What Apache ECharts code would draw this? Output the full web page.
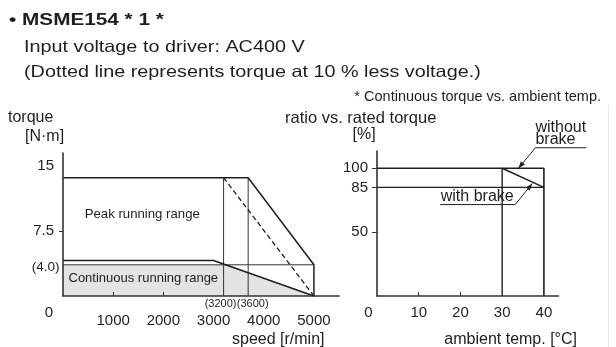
<!DOCTYPE html>
<html><head><meta charset="utf-8">
<script src="https://cdn.jsdelivr.net/npm/echarts@6/dist/echarts.min.js"></script>
<style>html,body{margin:0;padding:0;background:#fff}#c{width:616px;height:347px}</style>
</head><body><div id="c"></div>
<script>
// ---------- data: left chart (torque vs speed) ----------
const speedTickValues = [1000, 2000, 3000, 4000, 5000];
const speedTickMarks = [1000, 2000];
const torqueTickValues = [7.5, 15];
const torqueTickMarks = [7.5];
const peakTorque = [[0, 13.65], [3690, 13.65], [5000, 3.6], [5000, 0]];
const peakTorqueLowVoltage = [[3200, 13.65], [5000, 0]];
const continuousTorque = [[0, 4.1], [3000, 4.1], [5000, 0]];
const continuousRange = [[0, 3.6], [3250, 3.6], [5000, 0]];
const refTorqueLine = [[0, 3.6], [5000, 3.6]];
const cornerSpeedA = [[3200, 0], [3200, 13.65]];
const cornerSpeedB = [[3690, 0], [3690, 13.65]];
const cornerLabels = ['(3200)', '(3600)'];
const refTorqueLabel = '(4.0)';
const peakRangeLabel = 'Peak running range';
const contRangeLabel = 'Continuous running range';

// ---------- data: right chart (ratio vs ambient temp) ----------
const tempTickValues = [10, 20, 30, 40];
const tempTickMarks = [10, 20];
const ratioTickValues = [50, 85, 100];
const withoutBrake = [[0, 100], [40, 100], [40, 0]];
const withBrakeRef = [[0, 85], [40, 85]];
const withBrakeDerate = [[30, 100], [40, 85]];
const temp30Line = [[30, 0], [30, 100]];
const withoutBrakePoint = [33.9, 100];
const withBrakePoint = [37.2, 88];

const FONT = '"Liberation Sans", Arial, Helvetica, sans-serif';
const INK = '#1e1e1e';

const chart = echarts.init(document.getElementById('c'), null, {renderer: 'canvas'});

function seg(data, xi, opts) {
  return Object.assign({
    type: 'line', data: data, xAxisIndex: xi, yAxisIndex: xi,
    symbol: 'none', silent: true, animation: false, z: 3,
    lineStyle: {color: INK, width: 1.4}
  }, opts || {});
}

const axisLineStyle = {show: true, lineStyle: {color: '#333', width: 1.6}};
const labelStyle = {fontFamily: FONT, fontSize: 15, color: INK, formatter: function (v) { return String(v); }};

const option = {
  animation: false,
  backgroundColor: '#fff',
  grid: [
    {left: 63, top: 153, width: 276, height: 143},
    {left: 377, top: 151, width: 181.5, height: 145}
  ],
  xAxis: [
    {type: 'value', gridIndex: 0, min: 0, max: 5500, z: 4,
      axisLine: axisLineStyle,
      axisTick: {show: true, inside: true, length: 4, customValues: speedTickMarks, lineStyle: {color: '#333', width: 1}},
      axisLabel: Object.assign({customValues: speedTickValues, margin: 17}, labelStyle),
      splitLine: {show: false}},
    {type: 'value', gridIndex: 1, min: 0, max: 43.5, z: 4,
      axisLine: axisLineStyle,
      axisTick: {show: true, inside: true, length: 4, customValues: tempTickMarks, lineStyle: {color: '#333', width: 1}},
      axisLabel: Object.assign({customValues: tempTickValues, margin: 9}, labelStyle),
      splitLine: {show: false}}
  ],
  yAxis: [
    {type: 'value', gridIndex: 0, min: 0, max: 16.5, z: 4,
      axisLine: axisLineStyle,
      axisTick: {show: true, length: 4, customValues: torqueTickMarks, lineStyle: {color: '#333', width: 1}},
      axisLabel: Object.assign({customValues: torqueTickValues, margin: 9}, labelStyle),
      splitLine: {show: false}},
    {type: 'value', gridIndex: 1, min: 0, max: 113.5, z: 4,
      axisLine: axisLineStyle,
      axisTick: {show: true, length: 5, customValues: ratioTickValues, lineStyle: {color: '#333', width: 1}},
      axisLabel: Object.assign({customValues: ratioTickValues, margin: 9}, labelStyle),
      splitLine: {show: false}}
  ],
  series: [
    seg(continuousRange, 0, {z: 1, lineStyle: {width: 0, opacity: 0}, areaStyle: {color: '#e3e3e3', opacity: 1}}),
    seg(refTorqueLine, 0, {lineStyle: {color: '#333', width: 1}}),
    seg(cornerSpeedA, 0, {lineStyle: {color: '#333', width: 1}}),
    seg(cornerSpeedB, 0, {lineStyle: {color: '#333', width: 1}}),
    seg(continuousTorque, 0, {lineStyle: {color: INK, width: 1.5}}),
    seg(peakTorque, 0, {lineStyle: {color: INK, width: 1.5}}),
    seg(peakTorqueLowVoltage, 0, {lineStyle: {color: INK, width: 1.3, type: [5, 3]}}),
    seg(withBrakeRef, 1, {lineStyle: {color: INK, width: 1.4}}),
    seg(temp30Line, 1, {lineStyle: {color: INK, width: 1.4}}),
    seg(withBrakeDerate, 1, {lineStyle: {color: INK, width: 1.4}}),
    seg(withoutBrake, 1, {lineStyle: {color: INK, width: 1.6}})
  ]
};
chart.setOption(option);

function px(gi, pt) { return chart.convertToPixel({gridIndex: gi}, pt); }
function txt(x, y, s, o) {
  o = o || {};
  return {type: 'text', x: x, y: y, scaleX: o.sx || 1, silent: true, z: 10,
    style: {text: s, font: (o.bold ? 'bold ' : '') + (o.size || 16) + 'px ' + FONT, fill: INK,
      align: o.align || 'left', verticalAlign: 'middle', textAlign: o.align || 'left', textVerticalAlign: 'middle'}};
}
function ln(x1, y1, x2, y2, w) {
  return {type: 'line', silent: true, z: 10, shape: {x1: x1, y1: y1, x2: x2, y2: y2}, style: {stroke: INK, lineWidth: w || 1}};
}
function arrowHead(fx, fy, tx, ty) {
  const a = Math.atan2(ty - fy, tx - fx), L = 7, W = 2.6;
  const bx = tx - L * Math.cos(a), by = ty - L * Math.sin(a);
  return {type: 'polygon', silent: true, z: 10, shape: {points: [[tx, ty],
    [bx + W * Math.sin(a), by - W * Math.cos(a)], [bx - W * Math.sin(a), by + W * Math.cos(a)]]}, style: {fill: INK}};
}

const o0 = px(0, [0, 0]);
const o1 = px(1, [0, 0]);
const ref = px(0, refTorqueLine[0]);
const cA = px(0, cornerSpeedA[0]);
const cB = px(0, cornerSpeedB[0]);
const peakMid = px(0, [1580, 9.5]);
const contMid = px(0, [1600, 2.0]);
const wbTip = px(1, withoutBrakePoint);
const bTip = px(1, withBrakePoint);

const g = [
  txt(9, 20.5, '\u2022 MSME154 * 1 *', {bold: true, size: 17, sx: 1.22}),
  txt(24, 47, 'Input voltage to driver: AC400 V', {size: 16.5, sx: 1.2}),
  txt(24, 72, '(Dotted line represents torque at 10 % less voltage.)', {size: 16.5, sx: 1.2}),
  txt(601, 97, '* Continuous torque vs. ambient temp.', {size: 14.5, align: 'right'}),
  txt(8, 118, 'torque', {size: 16}),
  txt(25, 136.5, '[N\u00b7m]', {size: 16}),
  txt(285, 118, 'ratio vs. rated torque', {size: 16.5}),
  txt(352.5, 134.5, '[%]', {size: 16}),
  txt(324.5, 340, 'speed [r/min]', {size: 16, align: 'right'}),
  txt(577, 339.5, 'ambient temp. [\u00b0C]', {size: 16, align: 'right'}),
  txt(o0[0] - 14, o0[1] + 17, '0', {size: 15, align: 'center'}),
  txt(o1[0] - 8.5, o1[1] + 17, '0', {size: 15, align: 'center'}),
  txt(ref[0] - 3.5, ref[1] + 2.5, refTorqueLabel, {size: 13.5, align: 'right'}),
  txt(cA[0] - 3, cA[1] + 8, cornerLabels[0], {size: 11, align: 'center'}),
  txt(cB[0] + 4.5, cB[1] + 8, cornerLabels[1], {size: 11, align: 'center'}),
  txt(peakMid[0], peakMid[1] + 0.5, peakRangeLabel, {size: 13.2, align: 'center'}),
  txt(contMid[0], contMid[1], contRangeLabel, {size: 13, align: 'center'}),
  // without brake annotation
  txt(wbTip[0] + 17, wbTip[1] - 41, 'without', {size: 16}),
  txt(wbTip[0] + 17, wbTip[1] - 28.5, 'brake', {size: 16}),
  ln(wbTip[0] + 17, wbTip[1] - 20.5, wbTip[0] + 68, wbTip[1] - 20.5),
  ln(wbTip[0] + 17, wbTip[1] - 20.5, wbTip[0], wbTip[1]),
  arrowHead(wbTip[0] + 17, wbTip[1] - 20.5, wbTip[0], wbTip[1]),
  // with brake annotation
  txt(bTip[0] - 55, bTip[1] + 13.5, 'with brake', {size: 16, align: 'center'}),
  ln(bTip[0] - 92, bTip[1] + 21, bTip[0] - 17, bTip[1] + 21),
  ln(bTip[0] - 17, bTip[1] + 21, bTip[0], bTip[1]),
  arrowHead(bTip[0] - 17, bTip[1] + 21, bTip[0], bTip[1]),
  // page edge
  {type: 'line', silent: true, z: 0, shape: {x1: 608.5, y1: 105, x2: 608.5, y2: 347}, style: {stroke: '#e6e6e6', lineWidth: 1}}
];
chart.setOption({graphic: g});
</script>
</body></html>
